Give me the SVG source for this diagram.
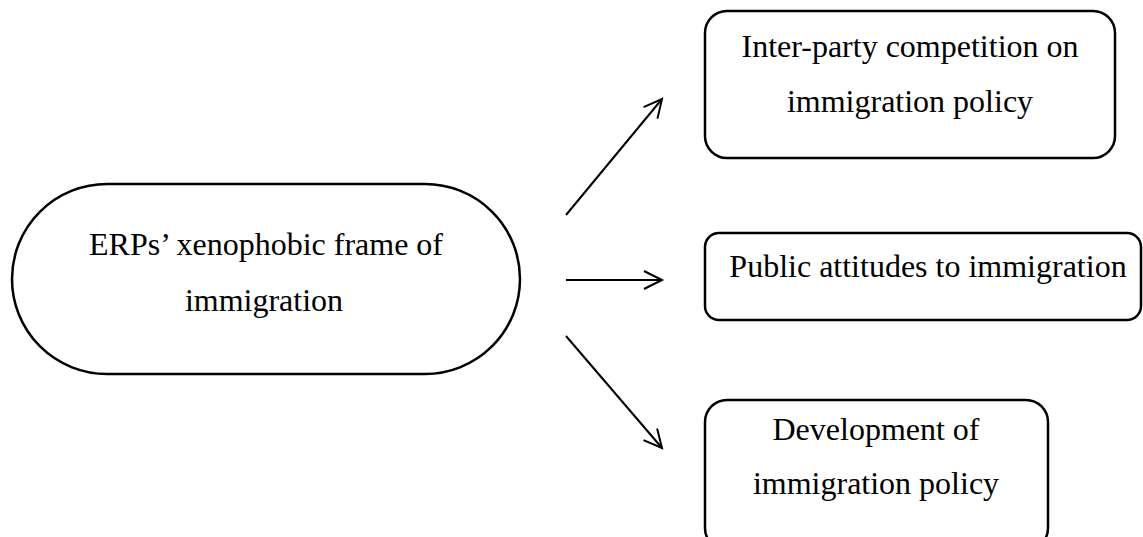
<svg xmlns="http://www.w3.org/2000/svg" width="1143" height="537" viewBox="0 0 1143 537">
<style>
.box{fill:#fff;stroke:#000;stroke-width:2.5}
.t{font-family:"Liberation Serif","Times New Roman",serif;font-size:32px;fill:#000;text-anchor:middle}
.c{stroke:#000;stroke-width:2;fill:none}
</style>
<defs>
<marker id="ah" markerWidth="24" markerHeight="24" refX="20" refY="10" orient="auto" markerUnits="userSpaceOnUse">
<path d="M2,1 L20,10 L2,19" fill="none" stroke="#000" stroke-width="2"/>
</marker>
</defs>
<rect width="1143" height="537" fill="#fff"/>
<g id="n_erp">
<rect class="box" x="12" y="184" width="508" height="190" rx="95" ry="95"/>
<text class="t" x="266" y="255">ERPs’ xenophobic frame of</text>
<text class="t" x="264" y="311">immigration</text>
</g>
<g id="n_inter">
<rect class="box" x="705" y="11" width="410" height="147" rx="22" ry="22"/>
<text class="t" x="910" y="57">Inter-party competition on</text>
<text class="t" x="910" y="112">immigration policy</text>
</g>
<g id="n_public">
<rect class="box" x="705" y="233" width="436" height="87" rx="14" ry="14"/>
<text class="t" x="928" y="277">Public attitudes to immigration</text>
</g>
<g id="n_dev">
<rect class="box" x="705" y="400" width="343" height="150" rx="22" ry="22"/>
<text class="t" x="876" y="440">Development of</text>
<text class="t" x="876" y="494">immigration policy</text>
</g>
<g id="connectors">
<line class="c" x1="566" y1="215" x2="662" y2="99" marker-end="url(#ah)"/>
<line class="c" x1="566" y1="280" x2="662" y2="280" marker-end="url(#ah)"/>
<line class="c" x1="566" y1="336" x2="662" y2="448" marker-end="url(#ah)"/>
</g>
</svg>
